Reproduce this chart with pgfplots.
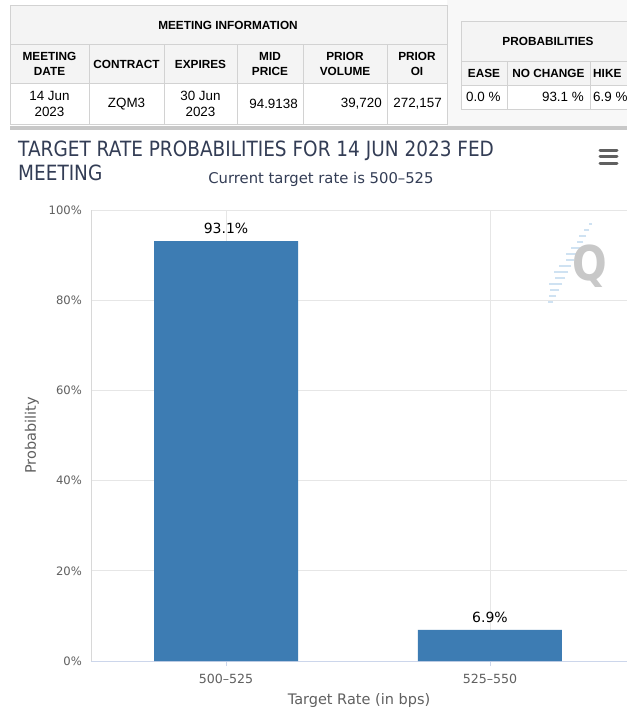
\documentclass[border=0pt]{standalone}
\usepackage{pgfplots}
\pgfplotsset{compat=1.18}
\usepackage{fontspec}
\setmainfont{DejaVu Sans}
\newfontfamily\arialfont{Liberation Sans}
\newfontfamily\titlefont[FakeStretch=0.88]{DejaVu Sans}
\definecolor{barblue}{HTML}{3D7CB3}
\definecolor{titlecol}{HTML}{333D55}
\definecolor{tickgray}{HTML}{606060}
\definecolor{gridgray}{HTML}{E6E6E6}
\definecolor{axisline}{HTML}{CCD6EB}
\definecolor{leftline}{HTML}{D8D8D8}
\definecolor{tblline}{HTML}{D2D2D2}
\definecolor{tblhead}{HTML}{F4F4F4}
\definecolor{panel}{HTML}{F8F8F8}
\definecolor{band}{HTML}{C8C8C8}
\definecolor{qgray}{HTML}{C8C8C8}
\definecolor{qblue}{HTML}{CFE2F2}
\newcommand{\hd}{\arialfont\bfseries\fontsize{11.8bp}{15bp}\selectfont}
\newcommand{\dt}{\arialfont\fontsize{13.4bp}{16bp}\selectfont}
\begin{document}
\begin{tikzpicture}
\clip (0,0) rectangle (627bp,-719bp);
\path[use as bounding box] (0,0) rectangle (627bp,-719bp);
\begin{scope}[x=1bp,y=-1bp]
\fill[white] (0,0) rectangle (627,719);
\fill[panel] (447,0) rectangle (627,126);
% left table
\fill[tblhead] (10,5) rectangle (447,83);
\fill[white] (10,83) rectangle (447,124);
\draw[tblline] (10,5) rectangle (447,124);
\draw[tblline] (10,44) -- (447,44) (10,83) -- (447,83);
\foreach \xx in {89,164,237,303,387} \draw[tblline] (\xx,44) -- (\xx,124);
\fill[band] (10,126) rectangle (627,130);
\node[font=\hd, inner sep=0pt] at (228,25) {MEETING INFORMATION};
\node[font=\hd, inner sep=0pt, align=center] at (49.5,64) {MEETING\\DATE};
\node[font=\hd, inner sep=0pt] at (126.5,64) {CONTRACT};
\node[font=\hd, inner sep=0pt] at (200.5,64) {EXPIRES};
\node[font=\hd, inner sep=0pt, align=center] at (270,64) {MID\\PRICE};
\node[font=\hd, inner sep=0pt, align=center] at (345,64) {PRIOR\\VOLUME};
\node[font=\hd, inner sep=0pt, align=center] at (417,64) {PRIOR\\OI};
\node[font=\dt, inner sep=0pt, align=center] at (49.5,104) {14 Jun\\2023};
\node[font=\dt, inner sep=0pt] at (126.5,104) {ZQM3};
\node[font=\dt, inner sep=0pt, align=center] at (200.5,104) {30 Jun\\2023};
\node[font=\dt, inner sep=0pt, anchor=east] at (298,104) {94.9138};
\node[font=\dt, inner sep=0pt, anchor=east] at (382,104) {39,720};
\node[font=\dt, inner sep=0pt, anchor=east] at (442,104) {272,157};
% right table
\fill[tblhead] (461,21) rectangle (627,85);
\fill[white] (461,85) rectangle (627,109);
\draw[tblline] (640,21) -- (461,21) -- (461,109) -- (640,109);
\draw[tblline] (461,61) -- (640,61) (461,85) -- (640,85);
\foreach \xx in {507,590} \draw[tblline] (\xx,61) -- (\xx,109);
\node[font=\hd, inner sep=0pt] at (548,41) {PROBABILITIES};
\node[font=\hd, inner sep=0pt] at (484,73) {EASE};
\node[font=\hd, inner sep=0pt] at (548.5,73) {NO CHANGE};
\node[font=\hd, inner sep=0pt, anchor=west] at (593,73) {HIKE};
\node[font=\dt, inner sep=0pt, anchor=west] at (466,97) {0.0 \%};
\node[font=\dt, inner sep=0pt, anchor=east] at (584,97) {93.1 \%};
\node[font=\dt, inner sep=0pt, anchor=west] at (593,97) {6.9 \%};
% titles
\node[font=\titlefont\fontsize{21bp}{24bp}\selectfont, text=titlecol, inner sep=0pt, anchor=base west] at (18,156.5) {TARGET RATE PROBABILITIES FOR 14 JUN 2023 FED};
\node[font=\titlefont\fontsize{21bp}{24bp}\selectfont, text=titlecol, inner sep=0pt, anchor=base west] at (18,180.5) {MEETING};
\node[font=\fontsize{14.8bp}{17bp}\selectfont, text=titlecol, inner sep=0pt, anchor=base] at (321,183.5) {Current target rate is 500--525};
% menu icon
\draw[line width=3bp, color=tickgray, line cap=round] (600,150) -- (617,150) (600,156.5) -- (617,156.5) (600,163) -- (617,163);
% watermark
\foreach \i/\l in {0/3,1/5,2/7,3/6,4/9,5/11,6/8,7/12,8/14,9/10,10/13,11/9,12/7,13/5}
  \draw[qblue, line width=1.2bp] ({592-3*\i},{224+6*\i}) -- ++(-\l,0);
\node[font=\bfseries\fontsize{48bp}{48bp}\selectfont, text=qgray, inner sep=0pt, xscale=0.85] at (590,266) {Q};
\end{scope}
\begin{axis}[
  at={(91bp,-661bp)}, anchor=south west, scale only axis,
  width=536bp, height=451bp,
  xmin=-0.5114, xmax=1.519, ymin=0, ymax=100,
  ybar, bar width=144bp,
  /pgf/number format/assume math mode=true,
  xtick={0,1}, xticklabels={500--525,525--550},
  ytick={0,20,40,60,80,100},
  yticklabel={\pgfmathprintnumber{\tick}\%},
  axis x line*=bottom, axis y line*=left,
  axis line style={-},
  x axis line style={draw=axisline, line width=1bp},
  y axis line style={draw=leftline, line width=0.8bp},
  xmajorgrids, ymajorgrids,
  major grid style={draw=gridgray, line width=0.8bp},
  ytick style={draw=none},
  major tick length=0pt,
  extra x ticks={0,1}, extra x tick labels={},
  extra x tick style={grid=none, major tick length=5bp, tick align=outside, tick style={draw=axisline, line width=0.8bp}},
  ticklabel style={text=tickgray},
  yticklabel style={font=\fontsize{11.6bp}{13bp}\selectfont, inner sep=0pt, xshift=-9bp},
  xticklabel style={font=\fontsize{12.6bp}{14bp}\selectfont, inner sep=0pt, yshift=-13bp},
  every axis x label/.style={at={(axis description cs:0.5,0)}, anchor=center, yshift=-39bp, font=\fontsize{14.5bp}{17bp}\selectfont, text=tickgray},
  every axis y label/.style={at={(axis description cs:0,0.5)}, anchor=center, xshift=-59bp, rotate=90, font=\fontsize{14.5bp}{17bp}\selectfont, text=tickgray},
  xlabel={Target Rate (in bps)},
  ylabel={Probability},
  nodes near coords={\pgfmathprintnumber[fixed,precision=1]{\pgfplotspointmeta}\%},
  every node near coord/.append style={font=\fontsize{14bp}{16bp}\selectfont, text=black, inner sep=0pt, yshift=7bp},
]
\addplot[fill=barblue, draw=none] coordinates {(0,93.1) (1,6.9)};
\end{axis}
\end{tikzpicture}
\end{document}
